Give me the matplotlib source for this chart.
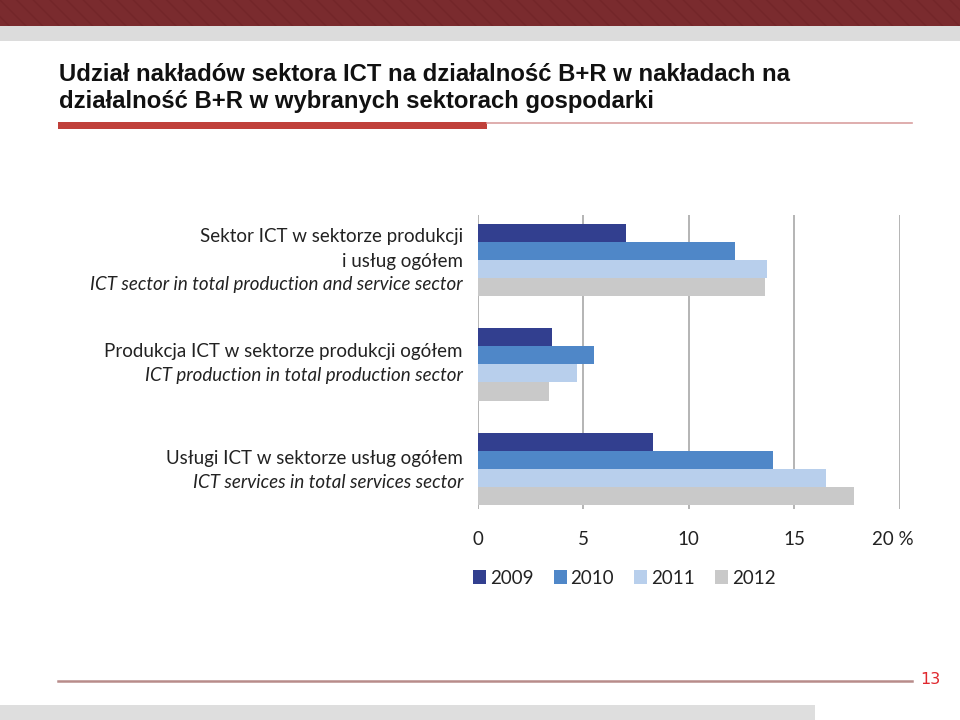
import matplotlib
matplotlib.use("Agg")
import matplotlib.pyplot as plt
from matplotlib.patches import Rectangle, Patch
from matplotlib.lines import Line2D
import numpy as np

# ---- data ----
years = ["2009", "2010", "2011", "2012"]
categories_pl = ["Sektor ICT w sektorze produkcji\ni usług ogółem",
                 "Produkcja ICT w sektorze produkcji ogółem",
                 "Usługi ICT w sektorze usług ogółem"]
categories_en = ["ICT sector in total production and service sector",
                 "ICT production in total production sector",
                 "ICT services in total services sector"]
values_2009 = [7.0, 3.5, 8.3]
values_2010 = [12.2, 5.5, 14.0]
values_2011 = [13.7, 4.7, 16.5]
values_2012 = [13.6, 3.4, 17.8]
xticks = [0, 5, 10, 15, 20]
xtick_labels = ["0", "5", "10", "15", "20 %"]
title_text = "Udział nakładów sektora ICT na działalność B+R w nakładach na\ndziałalność B+R w wybranych sektorach gospodarki"
page_number = "13"

colors = ["#323F8F", "#4F87C8", "#B8CFEC", "#C9C9C9"]
series = [values_2009, values_2010, values_2011, values_2012]

W, H = 960, 720
fig = plt.figure(figsize=(9.6, 7.2), dpi=100)
font = "Lato"
fs = 13.5

def fx(px):
    return px / W

def fy(py):
    return 1 - py / H

# ---- slide decorations ----
fig.add_artist(Rectangle((0, fy(26)), 1, 26 / H, transform=fig.transFigure,
                         facecolor="#7A2B2E", edgecolor="#732629", hatch="\\\\", lw=0))
fig.add_artist(Rectangle((0, fy(41)), 1, 15 / H, transform=fig.transFigure,
                         facecolor="#DCDCDC", edgecolor="none"))
fig.add_artist(Rectangle((fx(58), fy(129)), fx(487) - fx(58), 7 / H, transform=fig.transFigure,
                         facecolor="#C0403A", edgecolor="none"))
fig.add_artist(Line2D([fx(487), fx(912)], [fy(123), fy(123)], transform=fig.transFigure,
                      color="#D9A0A0", lw=1.2))
fig.add_artist(Line2D([fx(58), fx(912)], [fy(681), fy(681)], transform=fig.transFigure,
                      color="#B88C8A", lw=1.8))
fig.add_artist(Rectangle((0, 0), fx(815), 15 / H, transform=fig.transFigure,
                         facecolor="#DEDEDE", edgecolor="none"))
fig.text(fx(930), fy(680), page_number, color="#E0282E", fontsize=11.5,
         family="Liberation Sans Narrow", ha="center", va="center")

fig.text(fx(59), fy(88), title_text, fontsize=17.2, fontweight="bold",
         family="Liberation Sans", ha="left", va="center", linespacing=1.22,
         color="#111111")

# ---- axes ----
ax = fig.add_axes([fx(477.7), fy(509), fx(900) - fx(477.7), (509 - 215) / H])
n = len(categories_pl)
y = np.arange(n)
h = 18 / 104.3
offsets = [-1.5 * h, -0.5 * h, 0.5 * h, 1.5 * h]
for vals, off, c, yr in zip(series, offsets, colors, years):
    ax.barh(y + off, vals, height=h, color=c, label=yr, zorder=3, lw=0)

ax.set_xlim(0, 20)
ax.set_ylim(2.384, -0.431)
ax.set_xticks(xticks)
ax.set_xticklabels(xtick_labels[:-1] + [""], family=font, fontsize=fs, color="#222222")
ax.annotate(xtick_labels[-1], xy=(xticks[-1], 0), xycoords=("data", "axes fraction"),
            xytext=(-5, -16), textcoords="offset points", ha="center", va="top",
            family=font, fontsize=fs, color="#222222")
ax.set_yticks([])
ax.tick_params(axis="x", length=0, pad=16)
for s in ax.spines.values():
    s.set_visible(False)
ax.grid(axis="x", color="#A8A8A8", lw=1.2, zorder=0)
ax.set_axisbelow(True)

# category labels
for i in range(n):
    pl_lines = categories_pl[i].split("\n")
    lines = [(t, "normal") for t in pl_lines] + [(categories_en[i], "italic")]
    base_px = [237, 351, 459][i]
    for j, (t, st) in enumerate(lines):
        py = base_px + j * 24
        fig.text(fx(463), fy(py), t, family=font, style=st, fontsize=fs,
                 ha="right", va="center", color="#222222")

# legend
handles = [Patch(facecolor=c, edgecolor="none", label=yr) for c, yr in zip(colors, years)]
fig.legend(handles=handles, loc="center left", bbox_to_anchor=(fx(456), fy(578)),
           ncol=4, frameon=False, prop={"family": font, "size": fs},
           handlelength=0.7, handleheight=0.7, handletextpad=0.2, columnspacing=1.08,
           labelcolor="#222222")

fig.savefig("out.png", dpi=100)
